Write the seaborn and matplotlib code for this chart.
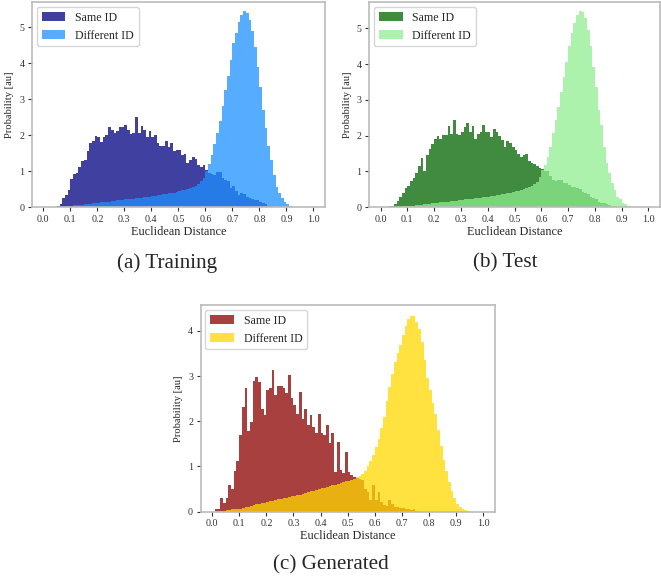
import numpy as np
import pandas as pd
import matplotlib
matplotlib.use("Agg")
import matplotlib.pyplot as plt
import seaborn as sns

# ================= Histogram data (bin width 0.01, bins 0.00 .. 0.99) =================
bin_edges = np.round(np.arange(0, 1.001, 0.01), 2)
bin_centers = bin_edges[:-1] + 0.005

train_same = [
    0, 0, 0, 0.01, 0.02, 0.04, 0.09, 0.25, 0.34, 0.48,
    0.78, 0.93, 0.96, 1.11, 1.29, 1.30, 1.57, 1.78, 1.85, 1.98,
    1.94, 1.82, 1.94, 2.01, 2.22, 2.16, 2.05, 2.13, 2.24, 2.24,
    2.28, 2.16, 2.04, 2.05, 2.50, 2.05, 2.26, 2.15, 1.96, 2.13,
    1.96, 2.00, 1.78, 1.69, 1.69, 1.85, 1.67, 1.78, 1.55, 1.60,
    1.58, 1.45, 1.47, 1.22, 1.30, 1.40, 1.33, 1.18, 1.13, 1.17,
    1.04, 0.96, 0.93, 0.90, 0.97, 0.97, 0.80, 0.75, 0.72, 0.55,
    0.60, 0.45, 0.35, 0.40, 0.38, 0.30, 0.25, 0.22, 0.20, 0.20,
    0.15, 0.12, 0.08, 0.05, 0.03, 0.02, 0.01, 0, 0, 0,
    0, 0, 0, 0, 0, 0, 0, 0, 0, 0,
]
train_diff = [
    0, 0, 0, 0, 0.005, 0.01, 0.015, 0.02, 0.03, 0.04,
    0.05, 0.055, 0.06, 0.07, 0.075, 0.08, 0.09, 0.10, 0.11, 0.12,
    0.13, 0.14, 0.15, 0.15, 0.16, 0.17, 0.18, 0.19, 0.20, 0.21,
    0.22, 0.23, 0.24, 0.24, 0.25, 0.26, 0.27, 0.28, 0.29, 0.30,
    0.31, 0.32, 0.33, 0.35, 0.36, 0.37, 0.39, 0.40, 0.41, 0.43,
    0.45, 0.47, 0.49, 0.51, 0.53, 0.56, 0.60, 0.65, 0.72, 0.82,
    1.00, 1.20, 1.45, 1.75, 2.05, 2.40, 2.80, 3.25, 3.65, 4.10,
    4.55, 4.85, 5.15, 5.35, 5.44, 5.40, 5.20, 4.90, 4.45, 3.90,
    3.35, 2.70, 2.20, 1.70, 1.30, 0.90, 0.57, 0.40, 0.25, 0.16,
    0.09, 0.05, 0.02, 0, 0, 0, 0, 0, 0, 0,
]

test_same = [
    0, 0, 0, 0.03, 0.04, 0.09, 0.19, 0.30, 0.39, 0.53,
    0.60, 0.74, 0.83, 0.96, 1.15, 1.39, 1.02, 1.45, 1.64, 1.78,
    1.92, 1.98, 1.92, 2.01, 2.03, 2.26, 2.06, 2.43, 2.06, 2.03,
    2.10, 2.24, 2.35, 2.10, 2.26, 1.92, 2.06, 2.10, 2.30, 2.10,
    2.10, 1.96, 2.19, 2.10, 2.00, 1.87, 1.69, 1.85, 1.80, 1.67,
    1.60, 1.50, 1.40, 1.45, 1.49, 1.28, 1.25, 1.21, 1.14, 1.09,
    1.06, 1.02, 1.00, 0.86, 0.76, 0.74, 0.76, 0.76, 0.69, 0.67,
    0.62, 0.58, 0.56, 0.53, 0.50, 0.42, 0.39, 0.36, 0.30, 0.27,
    0.22, 0.16, 0.13, 0.11, 0.09, 0.07, 0.05, 0.03, 0.01, 0,
    0, 0, 0, 0, 0, 0, 0, 0, 0, 0,
]
test_diff = [
    0, 0, 0, 0, 0.005, 0.01, 0.015, 0.02, 0.025, 0.03,
    0.04, 0.045, 0.05, 0.06, 0.065, 0.07, 0.08, 0.09, 0.10, 0.11,
    0.12, 0.13, 0.14, 0.14, 0.15, 0.16, 0.17, 0.18, 0.19, 0.20,
    0.21, 0.22, 0.23, 0.23, 0.24, 0.25, 0.26, 0.27, 0.28, 0.29,
    0.30, 0.31, 0.32, 0.34, 0.35, 0.36, 0.38, 0.39, 0.41, 0.43,
    0.45, 0.46, 0.48, 0.50, 0.53, 0.56, 0.60, 0.65, 0.72, 0.84,
    1.05, 1.18, 1.41, 1.69, 2.07, 2.44, 2.81, 3.23, 3.65, 4.07,
    4.49, 4.86, 5.14, 5.37, 5.47, 5.44, 5.28, 4.95, 4.49, 3.93,
    3.37, 2.72, 2.30, 1.69, 1.23, 0.95, 0.67, 0.48, 0.30, 0.22,
    0.13, 0.09, 0.05, 0.03, 0, 0, 0, 0, 0, 0,
]

gen_same = [
    0, 0.05, 0.05, 0.30, 0.20, 0.30, 0.60, 0.50, 0.90, 1.12,
    1.70, 2.32, 2.74, 1.78, 1.99, 2.89, 2.98, 2.87, 2.28, 2.14,
    2.69, 2.73, 3.13, 2.59, 2.78, 2.78, 2.73, 2.62, 3.03, 2.52,
    2.36, 2.17, 2.65, 2.06, 2.28, 1.92, 2.14, 1.88, 1.75, 2.17,
    1.75, 1.70, 1.92, 1.53, 1.75, 0.88, 1.55, 0.92, 0.85, 1.31,
    0.87, 0.81, 0.77, 0.74, 0.72, 0.70, 0.50, 0.44, 0.26, 0.59,
    0.26, 0.44, 0.22, 0.15, 0.12, 0.25, 0.17, 0.10, 0.10, 0.09,
    0.08, 0.06, 0.06, 0.03, 0.05, 0.02, 0.01, 0, 0, 0,
    0, 0, 0, 0, 0, 0, 0, 0, 0, 0,
    0, 0, 0, 0, 0, 0, 0, 0, 0, 0,
]
gen_diff = [
    0, 0.005, 0.01, 0.015, 0.02, 0.03, 0.04, 0.05, 0.06, 0.065,
    0.07, 0.08, 0.10, 0.11, 0.13, 0.14, 0.16, 0.17, 0.19, 0.20,
    0.22, 0.23, 0.24, 0.26, 0.27, 0.28, 0.30, 0.31, 0.32, 0.34,
    0.35, 0.37, 0.38, 0.40, 0.42, 0.43, 0.45, 0.46, 0.48, 0.50,
    0.52, 0.53, 0.55, 0.57, 0.58, 0.60, 0.62, 0.63, 0.65, 0.67,
    0.68, 0.70, 0.73, 0.77, 0.80, 0.83, 0.90, 1.00, 1.12, 1.25,
    1.42, 1.60, 1.85, 2.10, 2.45, 2.75, 3.05, 3.30, 3.50, 3.68,
    3.90, 4.10, 4.25, 4.33, 4.32, 4.20, 4.05, 3.75, 3.35, 2.95,
    2.70, 2.40, 2.15, 1.80, 1.45, 1.15, 0.90, 0.65, 0.45, 0.30,
    0.18, 0.11, 0.07, 0.04, 0.02, 0, 0, 0, 0, 0,
]

x_ticks = [0.0, 0.1, 0.2, 0.3, 0.4, 0.5, 0.6, 0.7, 0.8, 0.9, 1.0]

# ================= Style =================
sns.set_style("white")
plt.rcParams["font.family"] = ["Liberation Serif", "DejaVu Serif"]
plt.rcParams.update({
    "xtick.bottom": True,
    "ytick.left": True,
    "xtick.major.size": 3,
    "ytick.major.size": 3,
    "xtick.major.width": 0.8,
    "ytick.major.width": 0.8,
    "xtick.color": "#333333",
    "ytick.color": "#333333",
    "axes.edgecolor": "#bbbbbb",
    "axes.linewidth": 1.2,
})

fig = plt.figure(figsize=(6.61, 5.82), dpi=100)

panels = [
    # axes rect, same, diff, same colour, diff colour, ymax, yticks, caption, caption pos
    ([0.0484, 0.6438, 0.4433, 0.3527], train_same, train_diff, "navy", "dodgerblue",
     5.70, range(6), "(a) Training", (0.252, 0.548)),
    ([0.5587, 0.6438, 0.4398, 0.3527], test_same, test_diff, "darkgreen", "lightgreen",
     5.73, range(6), "(b) Test", (0.764, 0.548)),
    ([0.3036, 0.1208, 0.4452, 0.3551], gen_same, gen_diff, "darkred", "gold",
     4.57, range(5), "(c) Generated", (0.501, 0.029)),
]

for rect, same, diff, c_same, c_diff, ymax, yticks, caption, cap_pos in panels:
    ax = fig.add_axes(rect)
    df = pd.DataFrame({"distance": bin_centers, "same": same, "diff": diff})
    sns.histplot(data=df, x="distance", weights="same", bins=list(bin_edges), element="step",
                 color=c_same, alpha=0.75, linewidth=0, label="Same ID", ax=ax)
    sns.histplot(data=df, x="distance", weights="diff", bins=list(bin_edges), element="step",
                 color=c_diff, alpha=0.75, linewidth=0, label="Different ID", ax=ax)
    ax.set_xlim(-0.042, 1.043)
    ax.set_ylim(0, ymax)
    ax.set_xticks(x_ticks)
    ax.set_xticklabels([f"{t:.1f}" for t in x_ticks])
    ax.set_yticks(list(yticks))
    ax.tick_params(labelsize=7.2, pad=2.5)
    ax.set_xlabel("Euclidean Distance", fontsize=8.8, labelpad=1.5)
    ax.set_ylabel("Probability [au]", fontsize=7.6, labelpad=3.5)
    ax.legend(loc="upper left", fontsize=8.6, frameon=True, borderaxespad=0.4)
    fig.text(cap_pos[0], cap_pos[1], caption, ha="center", va="center", fontsize=15.2)

plt.savefig("out.png", dpi=100)
